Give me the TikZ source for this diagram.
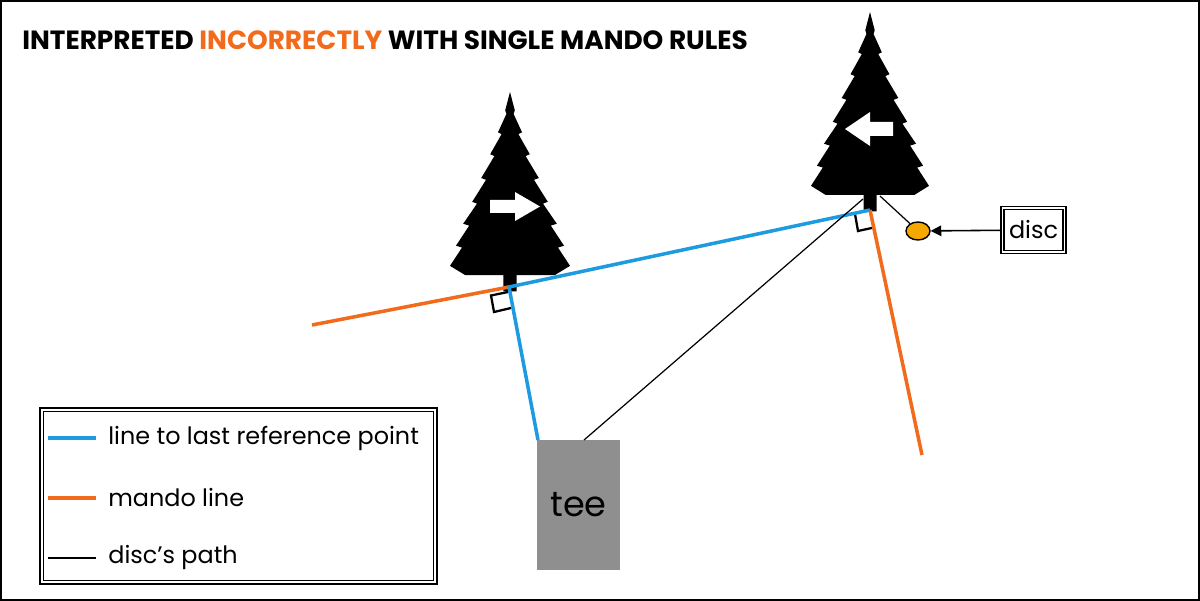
\documentclass[tikz,border=0pt]{standalone}
\usepackage{fontspec}
\setmainfont{Poppins}
\usetikzlibrary{arrows.meta,shapes.geometric}
\definecolor{bl}{HTML}{1E9BE0}
\definecolor{orl}{HTML}{F26B1D}
\definecolor{discc}{HTML}{F5A800}
\definecolor{teeg}{HTML}{8F8F8F}
\tikzset{
 blue line/.style={bl,line width=2pt},
 mando/.style={orl,line width=2pt},
 path line/.style={black,line width=0.7pt},
 rt/.style={black,line width=1.3pt},
 lbl/.style={font=\fontsize{13.6}{15}\selectfont,anchor=west,inner sep=0pt},
}
\newcommand{\treeshape}{%
 \fill (0,0) -- (0.08,0.1) -- (0.06,0.12) -- (0.2,0.22) -- (0.14,0.23) -- (0.33,0.34) -- (0.26,0.35) -- (0.48,0.47) -- (0.4,0.48) -- (0.63,0.6) -- (0.55,0.61) -- (0.78,0.72) -- (0.68,0.73) -- (0.9,0.84) -- (0.8,0.85) -- (1,0.95) -- (0.75,1) -- (0.11,1) -- (0.11,1.09) -- (-0.11,1.09) -- (-0.11,1) -- (-0.75,1) -- (-1,0.95) -- (-0.8,0.85) -- (-0.9,0.84) -- (-0.68,0.73) -- (-0.78,0.72) -- (-0.55,0.61) -- (-0.63,0.6) -- (-0.4,0.48) -- (-0.48,0.47) -- (-0.26,0.35) -- (-0.33,0.34) -- (-0.14,0.23) -- (-0.2,0.22) -- (-0.06,0.12) -- (-0.08,0.1) -- cycle;}
\begin{document}
\begin{tikzpicture}[x=0.02cm,y=-0.02cm]
\useasboundingbox (0,0) rectangle (1200,601);
\draw[line width=1.5pt] (1,1) rectangle (1199,600);
\node[anchor=west,font=\bfseries\fontsize{15}{17}\selectfont,inner sep=0pt] (title) at (22,40) {INTERPRETED \textcolor{orl}{INCORRECTLY} WITH SINGLE MANDO RULES};
% trees
\begin{scope}[shift={(510,92)},xscale=60,yscale=183] \treeshape \end{scope}
\begin{scope}[shift={(870,12)},xscale=59,yscale=183] \treeshape \end{scope}
\fill[white] (490,200) -- (515,200) -- (515,192) -- (540,206.5) -- (515,221) -- (515,213) -- (490,213) -- cycle;
\fill[white] (893,122) -- (870,122) -- (870,112) -- (845,129) -- (870,146) -- (870,136) -- (893,136) -- cycle;
% coordinates
\coordinate (p1) at (509,287);
\coordinate (p2) at (870,210);
\coordinate (m1) at (312,325);
\coordinate (m2) at (922,455);
\coordinate (pt) at (863,199);
\coordinate (pd) at (880,196);
% tee
\node[fill=teeg,minimum width=83*0.02cm,minimum height=130*0.02cm,inner sep=0pt,font=\fontsize{20}{22}\selectfont] (tee) at (578.5,505) {tee};
\coordinate (t1) at (538,440);
\coordinate (t2) at (584,440);
% right-angle marks
\draw[rt] (508,292) -- (491,295.5) -- (494,312) -- (511,308);
\draw[rt] (855,214) -- (858,231) -- (874,227.5);
\draw[mando] (m1) -- (p1);
\draw[mando] (p2) -- (m2);
\draw[blue line] (t1) -- (p1) -- (p2);
\draw[path line] (t2) -- (pt);
\node[draw,fill=discc,ellipse,minimum width=24*0.02cm,minimum height=18*0.02cm,inner sep=0pt,line width=0.8pt] (disc) at (918,231) {};
\draw[path line] (pd) -- (disc);
\node[draw,double,double distance=0.6pt,line width=1pt,minimum width=62*0.02cm,minimum height=44*0.02cm,font=\fontsize{13.6}{15}\selectfont] (dl) at (1033.5,230) {disc};
\draw[-{Triangle[length=6pt,width=6pt]},line width=0.9pt] (dl) -- (disc);
% legend
\draw[line width=1.4pt] (40,408) rectangle (437,584);
\draw[line width=1pt] (43.5,411.5) rectangle (433.5,580.5);
\coordinate (la1) at (48,438); \coordinate (lb1) at (96,438);
\coordinate (la2) at (48,498); \coordinate (lb2) at (96,498);
\coordinate (la3) at (48,558); \coordinate (lb3) at (96,558);
\draw[blue line] (la1) -- (lb1);
\draw[mando] (la2) -- (lb2);
\draw[line width=0.9pt] (la3) -- (lb3);
\node[lbl] (l1) at (108,438) {line to last reference point};
\node[lbl] (l2) at (108,498) {mando line};
\node[lbl] (l3) at (108,558) {disc’s path};
\end{tikzpicture}
\end{document}
